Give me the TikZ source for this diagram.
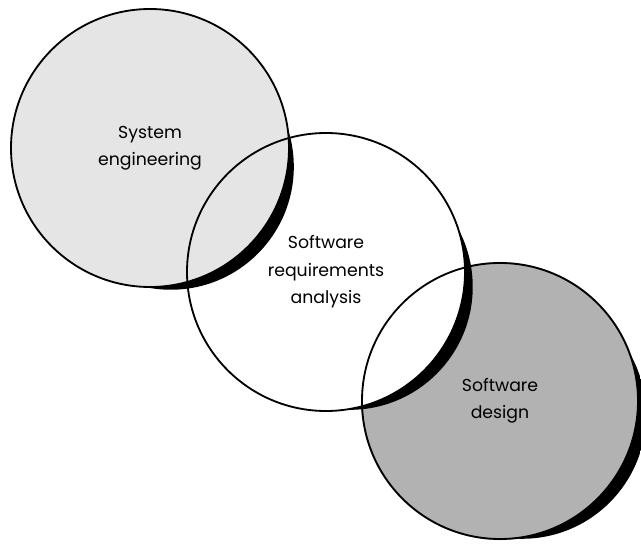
\documentclass[tikz,border=0pt]{standalone}
\usepackage{fontspec}
\setmainfont{Poppins}
\usetikzlibrary{calc}

\begin{document}
\begin{tikzpicture}[
			x=0.025cm, y=0.025cm,
			% Gaya untuk lingkaran (Node Styles)
			bubble/.style={
				circle,
				draw=none,
				minimum size=6.95cm,
				inner sep=0pt,
				align=center,
				font=\fontsize{12.3}{19.5}\selectfont
			},
			% Gaya untuk garis tepi
			rim/.style={
				draw=black,
				line width=1.3pt
			}
			]
			\useasboundingbox (0,0) rectangle (641,549);
			
			% Menempatkan lingkaran (Nodes)
			\node[bubble, fill=gray!60] (design) at (500,148) {Software\\design};
			\node[bubble, fill=white] (analysis) at (326,277) {Software\\requirements\\analysis};
			\node[bubble, fill=gray!20] (system) at (150,401) {System\\engineering};
			
			% Garis tepi
			\draw[rim] (design.center) circle (138);
			\draw[rim] (analysis.center) circle (139);
			\draw[rim] (system.center) circle (139);
			
			% Bayangan hitam
			\begin{scope}
				\clip ($(system.center)+(-42:28)$) circle (123);
				\fill[black, even odd rule] (system.center) circle (200) (system.center) circle (139);
			\end{scope}
			\begin{scope}
				\clip ($(analysis.center)+(-32:28)$) circle (123);
				\fill[black, even odd rule] (analysis.center) circle (200) (analysis.center) circle (139);
			\end{scope}
			\begin{scope}
				\clip ($(design.center)+(-32:26)$) circle (124);
				\fill[black, even odd rule] (design.center) circle (200) (design.center) circle (138);
			\end{scope}
			
		\end{tikzpicture}
\end{document}
